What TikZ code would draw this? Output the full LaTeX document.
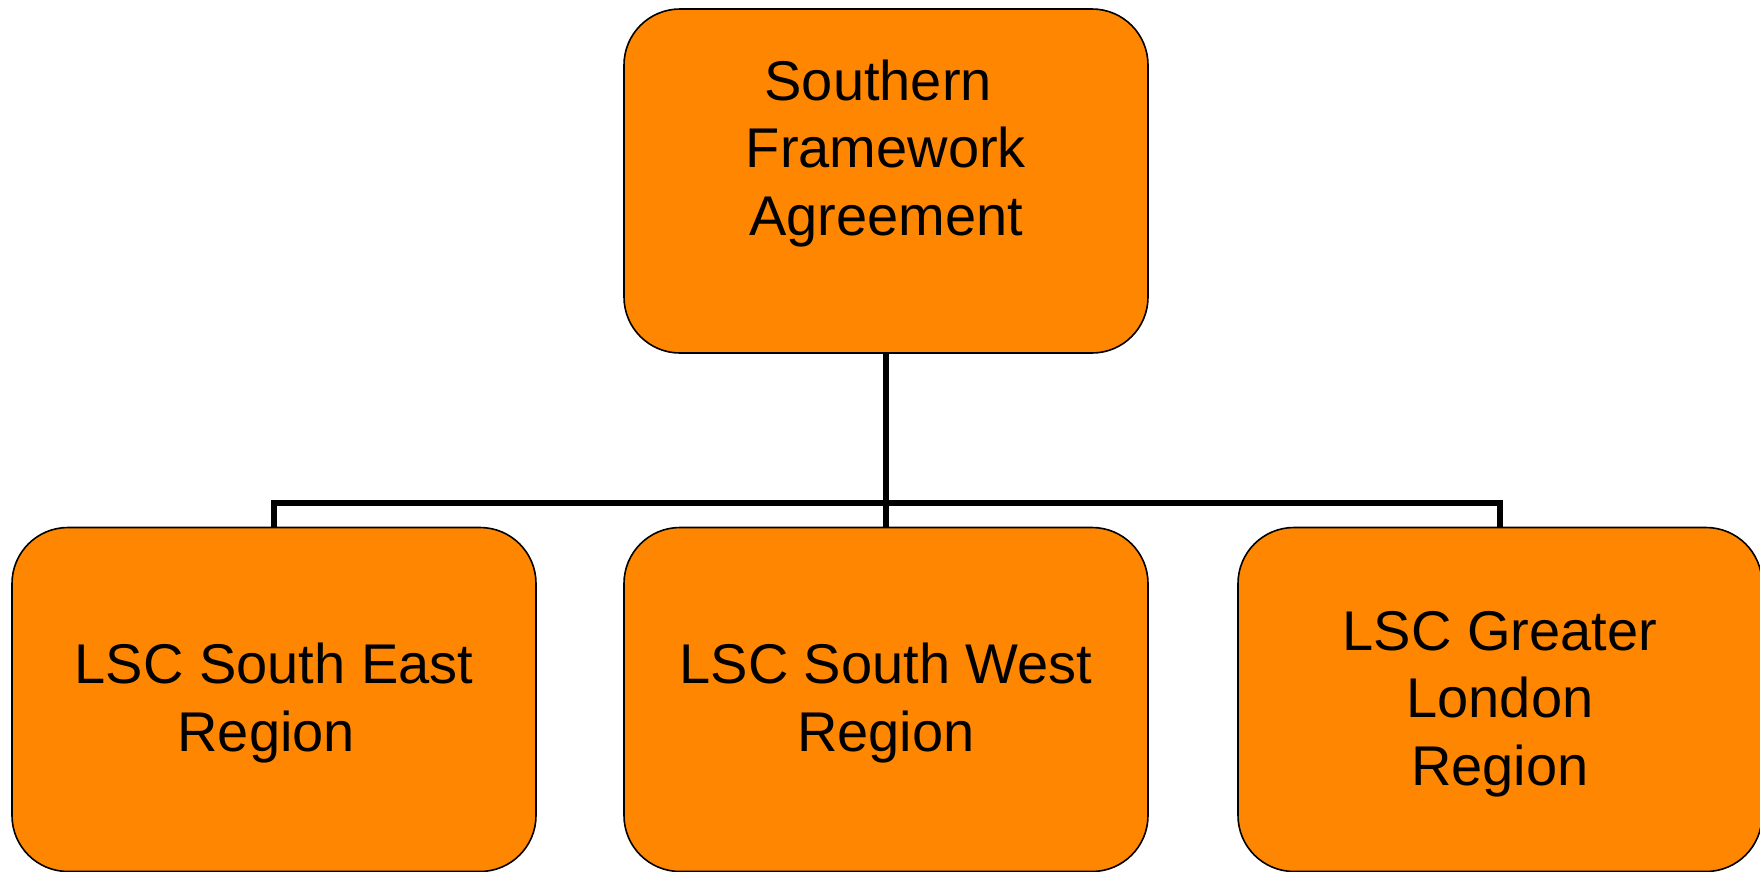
\documentclass[tikz,border=0pt]{standalone}
\usepackage{fontspec}
\setmainfont{Liberation Sans}
\definecolor{boxorange}{RGB}{255,134,0}
\newcommand{\topstrut}{\rule{0pt}{48pt}}
\begin{document}
\begin{tikzpicture}[x=1pt,y=-1pt,
  orgbox/.style={draw=black, line width=1.6pt, fill=boxorange, rounded corners=56pt,
    minimum width=524pt, minimum height=344pt, inner sep=0pt, align=center,
    font=\fontsize{56}{67.5}\selectfont},
  conn/.style={draw=black, line width=5.5pt}]
\useasboundingbox (0,0) rectangle (1760,871);
\clip (0,0) rectangle (1760,871);
\node[orgbox] (top) at (886,181) {\mbox{Southern\ }\\Framework\\Agreement\\\mbox{}};
\node[orgbox] (se) at (274,699.5) {\topstrut LSC South East\\\mbox{Region\ }};
\node[orgbox] (sw) at (886,699.5) {\topstrut LSC South West\\Region};
\node[orgbox] (gl) at (1500,699.5) {\topstrut LSC Greater\\London\\Region};
\coordinate (bus) at (886,503);
\draw[conn] (top.south) -- (bus);
\draw[conn] (se.north) |- (bus) -| (gl.north);
\draw[conn] (sw.north) -- (bus);
\end{tikzpicture}
\end{document}
